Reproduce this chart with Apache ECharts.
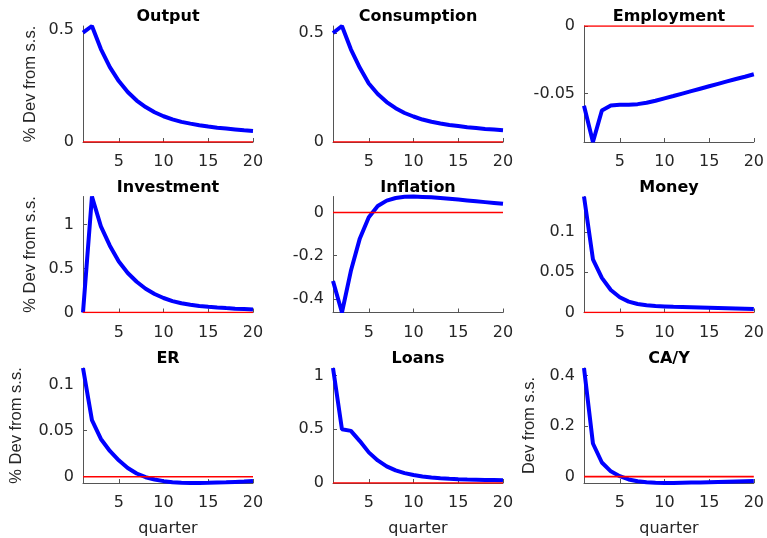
<!DOCTYPE html>
<html>
<head>
<meta charset="utf-8">
<script src="https://cdn.jsdelivr.net/npm/echarts@6/dist/echarts.min.js"></script>
<style>
html,body{margin:0;padding:0;background:#fff;}
#c{width:767px;height:538px;}
</style>
</head>
<body>
<div id="c"></div>
<script>
const quarters = [1,2,3,4,5,6,7,8,9,10,11,12,13,14,15,16,17,18,19,20];

const output      = [0.488,0.518,0.415,0.334,0.272,0.223,0.185,0.156,0.133,0.115,0.101,0.090,0.082,0.075,0.069,0.064,0.060,0.056,0.052,0.049];
const consumption = [0.500,0.532,0.425,0.340,0.268,0.220,0.183,0.155,0.133,0.117,0.103,0.093,0.085,0.078,0.073,0.068,0.064,0.060,0.057,0.054];
const employment  = [-0.059,-0.0858,-0.0625,-0.0588,-0.0583,-0.0582,-0.0578,-0.0568,-0.0553,-0.0535,-0.0518,-0.0500,-0.0482,-0.0464,-0.0446,-0.0428,-0.0410,-0.0392,-0.0375,-0.0357];
const investment  = [0.0,1.32,0.98,0.76,0.58,0.45,0.35,0.27,0.21,0.165,0.13,0.105,0.088,0.075,0.065,0.057,0.050,0.044,0.039,0.034];
const inflation   = [-0.317,-0.463,-0.270,-0.120,-0.022,0.030,0.055,0.067,0.073,0.074,0.072,0.070,0.067,0.064,0.060,0.056,0.052,0.048,0.044,0.040];
const money       = [0.144,0.066,0.043,0.028,0.019,0.0135,0.0105,0.009,0.008,0.0075,0.007,0.0067,0.0064,0.0061,0.0058,0.0055,0.0052,0.0049,0.0046,0.0043];
const er          = [0.118,0.0615,0.041,0.028,0.0178,0.0095,0.0035,-0.0005,-0.003,-0.0048,-0.0059,-0.0065,-0.0068,-0.0068,-0.0066,-0.0063,-0.006,-0.0056,-0.0052,-0.0047];
const loans       = [1.07,0.50,0.485,0.39,0.285,0.21,0.155,0.117,0.092,0.074,0.061,0.052,0.045,0.040,0.036,0.033,0.031,0.029,0.027,0.025];
const cay         = [0.429,0.131,0.056,0.021,0.002,-0.011,-0.018,-0.022,-0.024,-0.025,-0.025,-0.024,-0.023,-0.023,-0.022,-0.021,-0.020,-0.019,-0.018,-0.017];

const panelTitles = ['Output','Consumption','Employment','Investment','Inflation','Money','ER','Loans','CA/Y'];
const panelData   = [output,consumption,employment,investment,inflation,money,er,loans,cay];
const yTicks = [
  [0,0.5],[0,0.5],[-0.05,0],
  [0,0.5,1],[-0.4,-0.2,0],[0,0.05,0.1],
  [0,0.05,0.1],[0,0.5,1],[0,0.2,0.4]
];
const yNames = ['% Dev from s.s.','','','% Dev from s.s.','','','% Dev from s.s.','','Dev from s.s.'];
const xTicks = [5,10,15,20];
const xName = 'quarter';

const colLeft = [83,333,584];
const rowTop = [26,196.5,368];
const W = 170, H = 116;
const nameGaps = [44,0,0,44,0,0,58,0,46];

const grids=[], xAxes=[], yAxes=[], series=[], titles=[];
for (let i=0;i<9;i++){
  const r=Math.floor(i/3), c=i%3;
  const d=panelData[i];
  const lo=Math.min(0,...d), hi=Math.max(0,...d);
  grids.push({left:colLeft[c], top:rowTop[r], width:W, height:H, containLabel:false});
  titles.push({text:panelTitles[i], left:colLeft[c]+W/2, top:rowTop[r]-17, textAlign:'center', padding:0,
    textStyle:{fontFamily:'DejaVu Sans', fontWeight:'bold', fontSize:16, color:'#000'}});
  xAxes.push({type:'value', gridIndex:i, min:1, max:20,
    name: r===2 ? xName : '', nameLocation:'middle', nameGap:38,
    nameTextStyle:{fontFamily:'DejaVu Sans', fontSize:16, color:'#262626'},
    axisLine:{onZero:false, lineStyle:{color:'#555', width:1}},
    axisTick:{inside:true, length:4, customValues:xTicks, lineStyle:{color:'#555'}},
    axisLabel:{customValues:xTicks, margin:12, fontFamily:'DejaVu Sans', fontSize:16, color:'#262626'},
    splitLine:{show:false}});
  yAxes.push({type:'value', gridIndex:i, min:lo, max:hi,
    name: yNames[i], nameLocation:'middle', nameRotate:90, nameGap:nameGaps[i],
    nameTextStyle:{fontFamily:'Liberation Sans', fontSize:16.5, color:'#262626'},
    axisLine:{show:true, onZero:false, lineStyle:{color:'#555', width:1}},
    axisTick:{show:true, inside:true, length:4, customValues:yTicks[i], lineStyle:{color:'#555'}},
    axisLabel:{customValues:yTicks[i], margin:9, fontFamily:'DejaVu Sans', fontSize:16, color:'#262626',
      formatter:v=>String(v)},
    splitLine:{show:false}});
  series.push({type:'line', xAxisIndex:i, yAxisIndex:i, data:quarters.map((q,k)=>[q,d[k]]),
    showSymbol:false, symbol:'none', clip:false, lineStyle:{color:'#0000ff', width:4}, z:2, animation:false});
  series.push({type:'line', xAxisIndex:i, yAxisIndex:i, data:quarters.map(q=>[q,0]),
    showSymbol:false, symbol:'none', lineStyle:{color:'#ff0000', width:1.6}, z:3, animation:false});
}

const chart = echarts.init(document.getElementById('c'), null, {renderer:'canvas'});
chart.setOption({backgroundColor:'#fff', animation:false, title:titles, grid:grids, xAxis:xAxes, yAxis:yAxes, series:series});
</script>
</body>
</html>
